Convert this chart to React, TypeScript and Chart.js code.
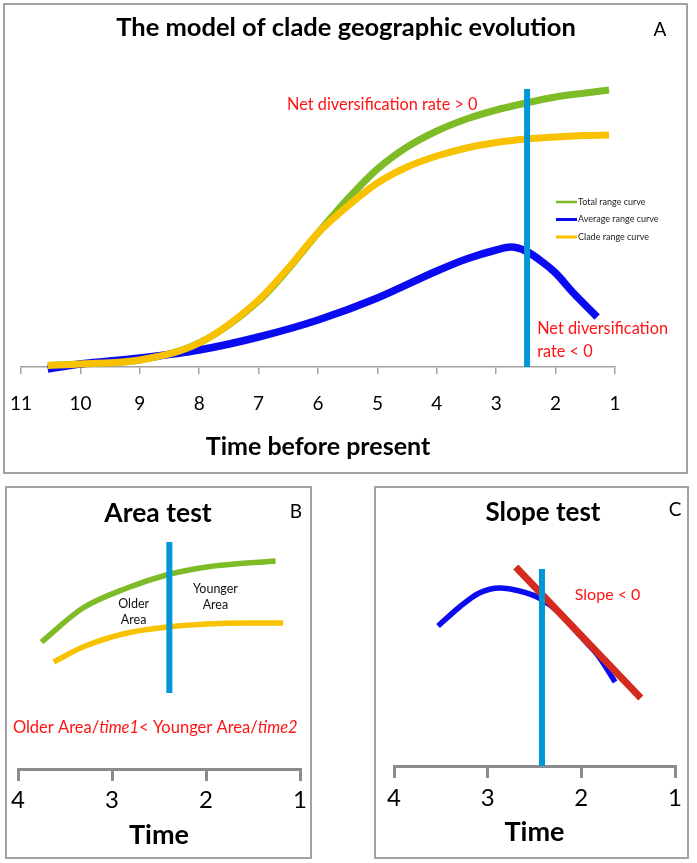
import React, { useEffect, useRef } from 'react';
import { Chart, registerables } from 'chart.js';

Chart.register(...registerables);

const FONT = 'Lato, "Open Sans", "DejaVu Sans", sans-serif';

// ---------- Panel A : The model of clade geographic evolution ----------
const ticksA = [11, 10, 9, 8, 7, 6, 5, 4, 3, 2, 1];
const totalTimeA = [10.55, 10, 9, 8, 7, 6.5, 6, 5.5, 5, 4.5, 4, 3.5, 3, 2.5, 2, 1.5, 1.1];
const totalRangeA = [1.5, 3, 7, 24, 66, 98, 134, 168, 198, 220, 236, 248, 257, 264, 270, 274, 277];
const cladeTimeA = [10.55, 10, 9, 8, 7, 6.5, 6, 5.5, 5, 4.5, 4, 3.5, 3, 2.5, 2, 1.5, 1.1];
const cladeRangeA = [1.5, 3, 7, 24, 67, 99, 134, 161, 184, 200, 211, 219, 224.5, 228, 230, 231.5, 232];
const avgTimeA = [10.55, 10, 9, 8, 7, 6, 5, 4, 3.5, 3, 2.75, 2.5, 2.2, 2, 1.7, 1.3];
const avgRangeA = [-2, 3, 9, 17, 30, 47, 69, 96, 108, 117, 120, 116, 104, 94, 74, 50];
const markerTimeA = [2.48, 2.48];
const markerValA = [0, 278];

// ---------- Panel B : Area test ----------
const ticksB = [4, 3, 2, 1];
const totalTimeB = [3.75, 3.31, 2.84, 2.42, 1.99, 1.57, 1.26];
const totalRangeB = [127, 161, 181, 194, 202, 206, 208];
const cladeTimeB = [3.62, 3.31, 2.84, 2.42, 1.99, 1.57, 1.18];
const cladeRangeB = [107, 122, 136, 142, 145, 146, 146];
const markerTimeB = [2.39, 2.39];
const markerValB = [76, 227];

// ---------- Panel C : Slope test ----------
const ticksC = [4, 3, 2, 1];
const avgTimeC = [3.53, 3.3, 3.09, 2.87, 2.66, 2.45, 2.23, 2.02, 1.81, 1.64];
const avgRangeC = [140, 159, 173, 178, 175, 168, 153, 131, 109, 84];
const slopeTimeC = [2.7, 1.365];
const slopeValC = [199, 68];
const markerTimeC = [2.42, 2.42];
const markerValC = [0, 197];

const GREEN = '#7dbb27';
const YELLOW = '#f8c200';
const BLUE = '#0b0bf2';
const CYAN = '#0096d8';
const RED_LINE = '#d52b1e';
const RED_TEXT = '#ff1414';

type Part = { text: string; italic?: boolean };
type TextItem = {
  text?: string;
  parts?: Part[];
  x?: number;
  y?: number;
  px?: number;
  py?: number;
  size: number;
  weight?: string;
  color: string;
  align: CanvasTextAlign;
};

function fontStr(size: number, weight = 'normal', italic = false) {
  return `${italic ? 'italic ' : ''}${weight} ${size}px ${FONT}`;
}

function textPlugin(items: TextItem[], offX: number, offY: number) {
  return {
    id: 'panelTexts',
    afterDatasetsDraw(chart: any) {
      const ctx = chart.ctx as CanvasRenderingContext2D;
      const xs = chart.scales.x;
      const ys = chart.scales.y;
      ctx.save();
      ctx.textBaseline = 'middle';
      for (const it of items) {
        const cx = it.x !== undefined ? xs.getPixelForValue(it.x) : (it.px as number) - offX;
        const cy = it.y !== undefined ? ys.getPixelForValue(it.y) : (it.py as number) - offY;
        ctx.fillStyle = it.color;
        if (it.parts) {
          let total = 0;
          const widths = it.parts.map((p) => {
            ctx.font = fontStr(it.size, it.weight, p.italic);
            const w = ctx.measureText(p.text).width;
            total += w;
            return w;
          });
          let start = it.align === 'center' ? cx - total / 2 : it.align === 'right' ? cx - total : cx;
          ctx.textAlign = 'left';
          it.parts.forEach((p, i) => {
            ctx.font = fontStr(it.size, it.weight, p.italic);
            ctx.fillText(p.text, start, cy);
            start += widths[i];
          });
        } else {
          ctx.font = fontStr(it.size, it.weight);
          ctx.textAlign = it.align;
          ctx.fillText(it.text as string, cx, cy);
        }
      }
      ctx.restore();
    },
  };
}

function legendPlugin(px: number, py: number, gap: number, offX: number, offY: number) {
  return {
    id: 'panelLegend',
    afterDatasetsDraw(chart: any) {
      const ctx = chart.ctx as CanvasRenderingContext2D;
      ctx.save();
      ctx.textBaseline = 'middle';
      ctx.textAlign = 'left';
      ctx.font = fontStr(9);
      let row = 0;
      chart.data.datasets.forEach((ds: any) => {
        if (!ds.legendLabel) return;
        const y = py - offY + row * gap;
        const x = px - offX;
        ctx.strokeStyle = ds.borderColor;
        ctx.lineWidth = ds.legendWidth;
        ctx.beginPath();
        ctx.moveTo(x, y);
        ctx.lineTo(x + 21, y);
        ctx.stroke();
        ctx.fillStyle = '#222';
        ctx.fillText(ds.legendLabel, x + 22, y);
        row++;
      });
      ctx.restore();
    },
  };
}

function curve(xs: number[], ys: number[], color: string, width: number, order: number, extra: any = {}) {
  return {
    data: xs.map((x, i) => ({ x, y: ys[i] })),
    borderColor: color,
    backgroundColor: color,
    borderWidth: width,
    pointRadius: 0,
    cubicInterpolationMode: 'monotone',
    fill: false,
    clip: false,
    order,
    ...extra,
  };
}

function straight(xs: number[], ys: number[], color: string, width: number, order: number) {
  return {
    data: xs.map((x, i) => ({ x, y: ys[i] })),
    borderColor: color,
    backgroundColor: color,
    borderWidth: width,
    pointRadius: 0,
    tension: 0,
    fill: false,
    clip: false,
    order,
  };
}

type AxisOpt = {
  ticks: number[];
  tickSize: number;
  tickPadding: number;
  tickLength: number;
  color: string;
  lineWidth: number;
  title: string;
  titleSize: number;
  titlePadBottom: number;
  height: number;
};

function xAxis(o: AxisOpt) {
  return {
    type: 'linear',
    min: Math.min(...o.ticks),
    max: Math.max(...o.ticks),
    reverse: true,
    afterBuildTicks: (s: any) => {
      s.ticks = o.ticks.map((v) => ({ value: v }));
    },
    ticks: {
      color: '#000',
      font: { family: FONT, size: o.tickSize },
      padding: o.tickPadding,
      autoSkip: false,
      maxRotation: 0,
      minRotation: 0,
    },
    grid: {
      drawOnChartArea: false,
      drawTicks: true,
      tickLength: o.tickLength,
      color: o.color,
      lineWidth: o.lineWidth,
    },
    border: { display: true, color: o.color, width: o.lineWidth },
    title: {
      display: true,
      text: o.title,
      color: '#000',
      font: { family: FONT, size: o.titleSize, weight: 'bold' },
      padding: { top: 0, bottom: o.titlePadBottom },
    },
    afterFit: (s: any) => {
      s.height = o.height;
      s.paddingLeft = 0;
      s.paddingRight = 0;
    },
  };
}

function baseOptions(pad: any, xa: any, ymax: number) {
  return {
    responsive: false,
    animation: false,
    events: [],
    layout: { padding: pad },
    plugins: { legend: { display: false }, tooltip: { enabled: false }, title: { display: false } },
    scales: {
      x: xa,
      y: { type: 'linear', display: false, min: 0, max: ymax },
    },
  };
}

function makeA(offX: number, offY: number): any {
  return {
    type: 'line',
    data: {
      datasets: [
        curve(totalTimeA, totalRangeA, GREEN, 7, 4, { legendLabel: 'Total range curve', legendWidth: 2.5 }),
        curve(avgTimeA, avgRangeA, BLUE, 7.5, 3, { legendLabel: 'Average range curve', legendWidth: 3 }),
        curve(cladeTimeA, cladeRangeA, YELLOW, 7, 2, { legendLabel: 'Clade range curve', legendWidth: 3 }),
        straight(markerTimeA, markerValA, CYAN, 6, 0),
      ],
    },
    options: baseOptions(
      { left: 18, right: 73, top: 64, bottom: 0 },
      xAxis({
        ticks: ticksA,
        tickSize: 19,
        tickPadding: 18,
        tickLength: 7,
        color: '#a2a2a2',
        lineWidth: 1.5,
        title: 'Time before present',
        titleSize: 25,
        titlePadBottom: 12,
        height: 107,
      }),
      300
    ),
    plugins: [
      legendPlugin(556, 202, 17.5, offX, offY),
      textPlugin(
        [
          { text: 'The model of clade geographic evolution', px: 346, py: 28, size: 25.5, weight: 'bold', color: '#000', align: 'center' },
          { text: 'A', px: 660, py: 30, size: 19, color: '#000', align: 'center' },
          { text: 'Net diversification rate > 0', x: 6.52, y: 262, size: 16.3, color: RED_TEXT, align: 'left' },
          { text: 'Net diversification', x: 2.31, y: 38, size: 16.3, color: RED_TEXT, align: 'left' },
          { text: 'rate < 0', x: 2.31, y: 15.5, size: 16.3, color: RED_TEXT, align: 'left' },
        ],
        offX,
        offY
      ),
    ],
  };
}

function makeB(offX: number, offY: number): any {
  return {
    type: 'line',
    data: {
      datasets: [
        curve(totalTimeB, totalRangeB, GREEN, 5.5, 3),
        curve(cladeTimeB, cladeRangeB, YELLOW, 5.5, 2),
        straight(markerTimeB, markerValB, CYAN, 6, 0),
      ],
    },
    options: baseOptions(
      { left: 13, right: 12, top: 44, bottom: 0 },
      xAxis({
        ticks: ticksB,
        tickSize: 24,
        tickPadding: 5,
        tickLength: 12,
        color: '#8c8c8c',
        lineWidth: 3,
        title: 'Time',
        titleSize: 27,
        titlePadBottom: 8,
        height: 90,
      }),
      239
    ),
    plugins: [
      textPlugin(
        [
          { text: 'Area test', px: 158, py: 513, size: 26.5, weight: 'bold', color: '#000', align: 'center' },
          { text: 'B', px: 296, py: 512, size: 19, color: '#000', align: 'center' },
          { text: 'Older', x: 2.77, y: 165, size: 12.5, color: '#111', align: 'center' },
          { text: 'Area', x: 2.77, y: 149, size: 12.5, color: '#111', align: 'center' },
          { text: 'Younger', x: 1.9, y: 180, size: 12.5, color: '#111', align: 'center' },
          { text: 'Area', x: 1.9, y: 164, size: 12.5, color: '#111', align: 'center' },
          {
            parts: [
              { text: 'Older Area/' },
              { text: 'time1', italic: true },
              { text: '< Younger Area/' },
              { text: 'time2', italic: true },
            ],
            x: 2.54,
            y: 41,
            size: 16.5,
            color: RED_TEXT,
            align: 'center',
          },
        ],
        offX,
        offY
      ),
    ],
  };
}

function makeC(offX: number, offY: number): any {
  return {
    type: 'line',
    data: {
      datasets: [
        curve(avgTimeC, avgRangeC, BLUE, 5.5, 3),
        straight(slopeTimeC, slopeValC, RED_LINE, 7, 1),
        straight(markerTimeC, markerValC, CYAN, 6, 0),
      ],
    },
    options: baseOptions(
      { left: 20, right: 14, top: 44, bottom: 0 },
      xAxis({
        ticks: ticksC,
        tickSize: 24,
        tickPadding: 6,
        tickLength: 12,
        color: '#8c8c8c',
        lineWidth: 3,
        title: 'Time',
        titleSize: 27,
        titlePadBottom: 11,
        height: 93,
      }),
      236
    ),
    plugins: [
      textPlugin(
        [
          { text: 'Slope test', px: 543, py: 513, size: 26, weight: 'bold', color: '#000', align: 'center' },
          { text: 'C', px: 675, py: 510, size: 19, color: '#000', align: 'center' },
          { text: 'Slope < 0', x: 2.07, y: 171, size: 16, color: RED_TEXT, align: 'left' },
        ],
        offX,
        offY
      ),
    ],
  };
}

type PanelProps = { left: number; top: number; width: number; height: number; make: (ox: number, oy: number) => any };

function ChartPanel({ left, top, width, height, make }: PanelProps) {
  const ref = useRef<HTMLCanvasElement>(null);
  useEffect(() => {
    const chart = new Chart(ref.current as HTMLCanvasElement, make(left, top));
    return () => chart.destroy();
  }, []);
  return (
    <>
      <canvas
        ref={ref}
        width={width}
        height={height}
        style={{ position: 'absolute', left, top, width, height, display: 'block' }}
      />
      <div
        style={{
          position: 'absolute',
          left,
          top,
          width,
          height,
          border: '2px solid #a3a3a3',
          boxSizing: 'border-box',
          pointerEvents: 'none',
        }}
      />
    </>
  );
}

export default function App() {
  return (
    <div style={{ position: 'absolute', left: 0, top: 0, width: 697, height: 863, background: '#fff', overflow: 'hidden' }}>
      <ChartPanel left={3} top={3} width={685} height={471} make={makeA} />
      <ChartPanel left={5} top={486} width={307} height={373} make={makeB} />
      <ChartPanel left={374} top={486} width={315} height={373} make={makeC} />
    </div>
  );
}
